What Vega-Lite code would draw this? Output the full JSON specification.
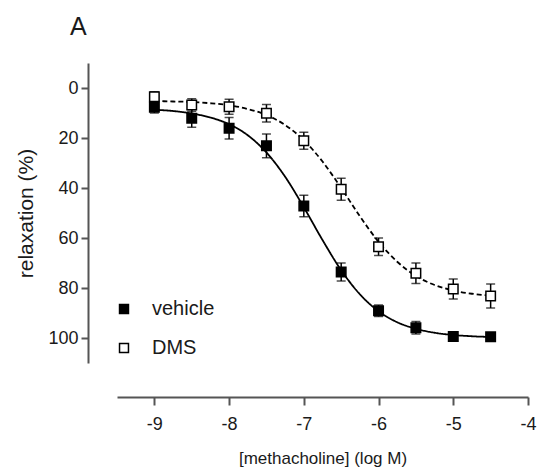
{
  "$schema": "https://vega.github.io/schema/vega-lite/v6.json",
  "width": 411,
  "height": 300,
  "autosize": {"type": "none"},
  "padding": {"left": 117, "top": 63, "right": 13, "bottom": 109},
  "background": "white",
  "config": {
    "view": {"stroke": null},
    "font": "Liberation Sans",
    "axis": {"grid": false, "labelFont": "Liberation Sans", "titleFont": "Liberation Sans", "labelColor": "#1a1a1a", "titleColor": "#1a1a1a", "titleFontWeight": "normal", "domainColor": "#555555", "tickColor": "#555555", "domainWidth": 2, "tickWidth": 2, "labelFlush": false}
  },
  "title": {"text": "A", "anchor": "start", "frame": "group", "fontSize": 25, "fontWeight": "normal", "font": "Liberation Sans", "color": "#1a1a1a", "dx": -47, "offset": 23},
  "datasets": {
    "points": [
      {"series": "vehicle", "x": -9, "y": 7.7, "lo": 5.4, "hi": 10.0},
      {"series": "vehicle", "x": -8.5, "y": 12.1, "lo": 8.5, "hi": 15.7},
      {"series": "vehicle", "x": -8, "y": 16.1, "lo": 11.8, "hi": 20.4},
      {"series": "vehicle", "x": -7.5, "y": 23.1, "lo": 18.4, "hi": 27.9},
      {"series": "vehicle", "x": -7, "y": 47.2, "lo": 42.9, "hi": 51.5},
      {"series": "vehicle", "x": -6.5, "y": 73.6, "lo": 70.0, "hi": 77.2},
      {"series": "vehicle", "x": -6, "y": 89.1, "lo": 86.8, "hi": 91.4},
      {"series": "vehicle", "x": -5.5, "y": 95.9, "lo": 93.4, "hi": 98.4},
      {"series": "vehicle", "x": -5, "y": 99.4, "lo": 98.4, "hi": 100.4},
      {"series": "vehicle", "x": -4.5, "y": 99.5, "lo": 98.5, "hi": 100.5},
      {"series": "DMS", "x": -9, "y": 3.5, "lo": 1.5, "hi": 5.5},
      {"series": "DMS", "x": -8.5, "y": 6.8, "lo": 4.3, "hi": 9.3},
      {"series": "DMS", "x": -8, "y": 7.5, "lo": 4.5, "hi": 10.5},
      {"series": "DMS", "x": -7.5, "y": 10.1, "lo": 6.6, "hi": 13.6},
      {"series": "DMS", "x": -7, "y": 21.1, "lo": 17.7, "hi": 24.5},
      {"series": "DMS", "x": -6.5, "y": 40.5, "lo": 36.1, "hi": 44.9},
      {"series": "DMS", "x": -6, "y": 63.5, "lo": 60.0, "hi": 67.0},
      {"series": "DMS", "x": -5.5, "y": 74.1, "lo": 70.0, "hi": 78.2},
      {"series": "DMS", "x": -5, "y": 80.4, "lo": 76.4, "hi": 84.4},
      {"series": "DMS", "x": -4.5, "y": 83.2, "lo": 78.4, "hi": 88.0}
    ],
    "curve": [
      {"series": "vehicle", "x": -9, "y": 8.7},
      {"series": "vehicle", "x": -8.75, "y": 9.2},
      {"series": "vehicle", "x": -8.5, "y": 10.2},
      {"series": "vehicle", "x": -8.25, "y": 11.8},
      {"series": "vehicle", "x": -8, "y": 14.5},
      {"series": "vehicle", "x": -7.75, "y": 18.9},
      {"series": "vehicle", "x": -7.5, "y": 25.8},
      {"series": "vehicle", "x": -7.25, "y": 35.5},
      {"series": "vehicle", "x": -7, "y": 47.7},
      {"series": "vehicle", "x": -6.75, "y": 60.8},
      {"series": "vehicle", "x": -6.5, "y": 72.9},
      {"series": "vehicle", "x": -6.25, "y": 82.5},
      {"series": "vehicle", "x": -6, "y": 89.3},
      {"series": "vehicle", "x": -5.75, "y": 93.7},
      {"series": "vehicle", "x": -5.5, "y": 96.3},
      {"series": "vehicle", "x": -5.25, "y": 97.9},
      {"series": "vehicle", "x": -5, "y": 98.8},
      {"series": "vehicle", "x": -4.75, "y": 99.3},
      {"series": "vehicle", "x": -4.5, "y": 99.6},
      {"series": "DMS", "x": -9, "y": 5.2},
      {"series": "DMS", "x": -8.75, "y": 5.4},
      {"series": "DMS", "x": -8.5, "y": 5.6},
      {"series": "DMS", "x": -8.25, "y": 6.1},
      {"series": "DMS", "x": -8, "y": 6.9},
      {"series": "DMS", "x": -7.75, "y": 8.4},
      {"series": "DMS", "x": -7.5, "y": 10.8},
      {"series": "DMS", "x": -7.25, "y": 14.8},
      {"series": "DMS", "x": -7, "y": 20.9},
      {"series": "DMS", "x": -6.75, "y": 29.4},
      {"series": "DMS", "x": -6.5, "y": 40.0},
      {"series": "DMS", "x": -6.25, "y": 51.3},
      {"series": "DMS", "x": -6, "y": 61.5},
      {"series": "DMS", "x": -5.75, "y": 69.5},
      {"series": "DMS", "x": -5.5, "y": 75.2},
      {"series": "DMS", "x": -5.25, "y": 78.8},
      {"series": "DMS", "x": -5, "y": 81.0},
      {"series": "DMS", "x": -4.75, "y": 82.3},
      {"series": "DMS", "x": -4.5, "y": 83.0}
    ]
  },
  "layer": [
    {
      "data": {"name": "curve"},
      "mark": {"type": "line", "interpolate": "monotone", "stroke": "black", "strokeWidth": 1.8},
      "encoding": {
        "x": {"field": "x", "type": "quantitative", "scale": {"domain": [-9.5, -4], "nice": false, "zero": false},
          "axis": {"values": [-9, -8, -7, -6, -5, -4], "offset": 34, "tickSize": 8, "labelFontSize": 18, "labelPadding": 10, "labelExpr": "'' + datum.value", "title": "[methacholine] (log M)", "titleFontSize": 17, "titlePadding": 17}},
        "y": {"field": "y", "type": "quantitative", "scale": {"domain": [-10, 110], "nice": false, "zero": false, "reverse": true},
          "axis": {"values": [0, 20, 40, 60, 80, 100], "offset": 29, "tickSize": 7, "labelFontSize": 18, "labelPadding": 3, "title": "relaxation (%)", "titleFontSize": 21, "titlePadding": 11}},
        "strokeDash": {"field": "series", "type": "nominal", "scale": {"domain": ["DMS", "vehicle"], "range": [[5, 3], [1, 0]]}, "legend": null}
      }
    },
    {
      "data": {"name": "points"},
      "mark": {"type": "rule", "stroke": "black", "strokeWidth": 1.5},
      "encoding": {"x": {"field": "x", "type": "quantitative"}, "y": {"field": "lo", "type": "quantitative"}, "y2": {"field": "hi"}}
    },
    {
      "data": {"name": "points"},
      "mark": {"type": "tick", "orient": "horizontal", "size": 9, "thickness": 1.5, "color": "black"},
      "encoding": {"x": {"field": "x", "type": "quantitative"}, "y": {"field": "lo", "type": "quantitative"}}
    },
    {
      "data": {"name": "points"},
      "mark": {"type": "tick", "orient": "horizontal", "size": 9, "thickness": 1.5, "color": "black"},
      "encoding": {"x": {"field": "x", "type": "quantitative"}, "y": {"field": "hi", "type": "quantitative"}}
    },
    {
      "data": {"name": "points"},
      "mark": {"type": "point", "shape": "square", "size": 90, "filled": true, "stroke": "black", "strokeWidth": 1.5, "opacity": 1},
      "encoding": {
        "x": {"field": "x", "type": "quantitative"},
        "y": {"field": "y", "type": "quantitative"},
        "fill": {"field": "series", "type": "nominal", "scale": {"domain": ["vehicle", "DMS"], "range": ["black", "white"]},
          "legend": {"orient": "none", "legendX": -3, "legendY": 236, "title": null, "padding": 0, "symbolType": "square", "symbolSize": 80, "symbolStrokeColor": "black", "symbolStrokeWidth": 1.5, "labelFontSize": 20, "labelFont": "Liberation Sans", "labelColor": "#1a1a1a", "labelOffset": 18, "rowPadding": 19}}
      }
    }
  ]
}
